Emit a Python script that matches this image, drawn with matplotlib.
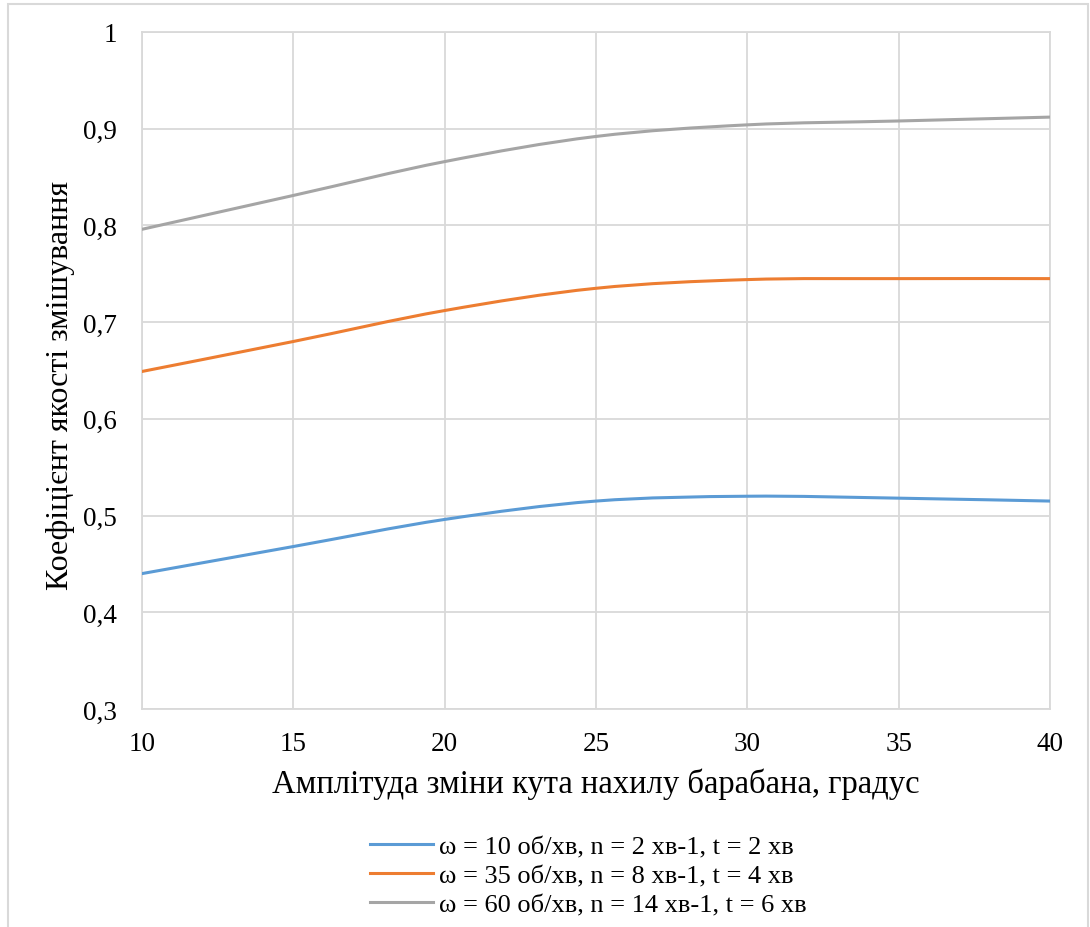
import matplotlib.pyplot as plt
from matplotlib.path import Path
from matplotlib.patches import PathPatch, Rectangle
from matplotlib.lines import Line2D

plt.rcParams['font.family'] = ['Liberation Serif', 'DejaVu Serif']

# Data
amplitude = [10, 15, 20, 25, 30, 35, 40]
k_w10 = [0.440, 0.468, 0.496, 0.515, 0.520, 0.518, 0.515]
k_w35 = [0.649, 0.680, 0.712, 0.735, 0.744, 0.745, 0.745]
k_w60 = [0.796, 0.831, 0.866, 0.892, 0.904, 0.908, 0.912]

series_labels = [
    "ω = 10 об/хв, n = 2 хв-1, t = 2 хв",
    "ω = 35 об/хв, n = 8 хв-1, t = 4 хв",
    "ω = 60 об/хв, n = 14 хв-1, t = 6 хв",
]
colors = ["#5B9BD5", "#ED7D31", "#A5A5A5"]

x_ticks = [10, 15, 20, 25, 30, 35, 40]
y_ticks = [0.3, 0.4, 0.5, 0.6, 0.7, 0.8, 0.9, 1.0]
y_tick_labels = ["0,3", "0,4", "0,5", "0,6", "0,7", "0,8", "0,9", "1"]


def smooth_path(xs, ys):
    # Excel-style smoothed line: cubic Bezier segments through the points
    pts = list(zip(xs, ys))
    verts = [pts[0]]
    codes = [Path.MOVETO]
    n = len(pts)
    for i in range(n - 1):
        p0 = pts[i - 1] if i > 0 else pts[i]
        p1 = pts[i]
        p2 = pts[i + 1]
        p3 = pts[i + 2] if i + 2 < n else pts[i + 1]
        c1 = (p1[0] + (p2[0] - p0[0]) / 6, p1[1] + (p2[1] - p0[1]) / 6)
        c2 = (p2[0] - (p3[0] - p1[0]) / 6, p2[1] - (p3[1] - p1[1]) / 6)
        verts += [c1, c2, p2]
        codes += [Path.CURVE4] * 3
    return Path(verts, codes)


fig = plt.figure(figsize=(10.9, 9.28), dpi=100)
ax = fig.add_axes([142 / 1090, 1 - 710 / 928, 908 / 1090, 677 / 928])

# outer chart border
fig.patches.append(Rectangle((8 / 1090, -0.01), 1080 / 1090, 1 - 5 / 928 + 0.01,
                             transform=fig.transFigure, fill=False,
                             edgecolor="#D9D9D9", lw=1.5))

for ys, c in zip([k_w10, k_w35, k_w60], colors):
    ax.add_patch(PathPatch(smooth_path(amplitude, ys), fill=False,
                           edgecolor=c, lw=2.2, capstyle="round",
                           zorder=3))

ax.set_xlim(10, 40)
ax.set_ylim(0.3, 1.0)
ax.set_xticks(x_ticks)
ax.set_yticks(y_ticks)
ax.set_yticklabels(y_tick_labels)
ax.tick_params(length=0, labelsize=19.5)
ax.tick_params(axis="x", pad=16)
ax.tick_params(axis="y", pad=18)
ax.grid(True, color="#D9D9D9", lw=1.3)
ax.set_axisbelow(True)
for s in ax.spines.values():
    s.set_color("#D9D9D9")
    s.set_linewidth(1.3)

ax.set_xlabel("Амплітуда зміни кута нахилу барабана, градус", fontsize=23.5,
              labelpad=8)
ax.set_ylabel("Коефіцієнт якості змішування", fontsize=23)
ax.yaxis.set_label_coords(-0.074, 0.48)

handles = [Line2D([], [], color=c, lw=2.2) for c in colors]
fig.legend(handles, series_labels, loc="upper left",
           bbox_to_anchor=(370 / 1090, 1 - 836 / 928), frameon=False,
           fontsize=19, handlelength=2.4, handletextpad=0.2,
           labelspacing=0.2, borderaxespad=0, borderpad=0)

fig.savefig("out.png", dpi=100)
